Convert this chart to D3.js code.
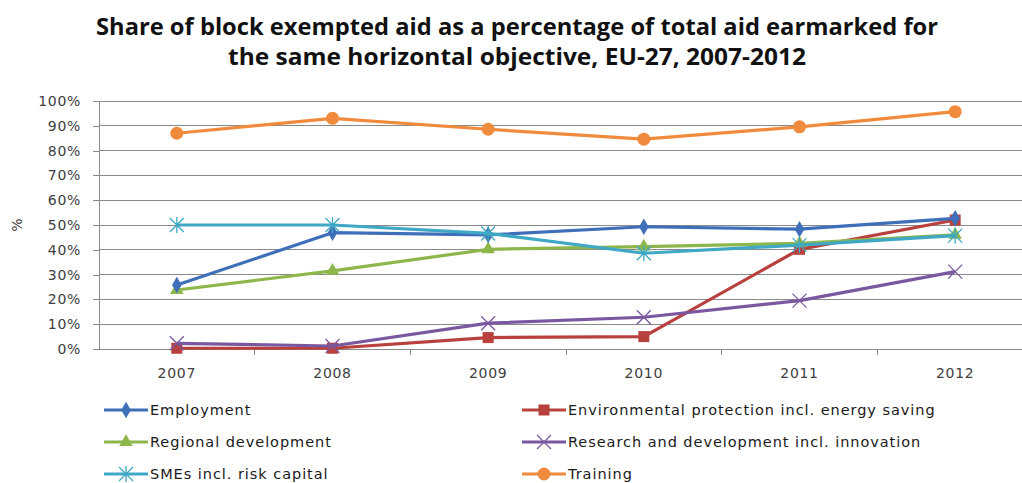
<!DOCTYPE html>
<html><head><meta charset="utf-8">
<script src="https://cdn.jsdelivr.net/npm/d3@7"></script>
<style>body{margin:0;background:#fff}svg{display:block}</style>
</head><body><svg id="c" width="1022" height="483"></svg>
<script>
const years = ["2007","2008","2009","2010","2011","2012"];
const yTicks = [0,10,20,30,40,50,60,70,80,90,100];
const employment = [25.8,46.9,46.0,49.3,48.3,52.7];
const environmental = [0.3,0.3,4.6,5.0,40.2,52.0];
const regional = [23.8,31.5,40.2,41.3,42.6,46.0];
const research = [2.3,1.2,10.4,12.8,19.5,31.2];
const smes = [50.0,50.0,46.6,38.6,41.9,45.7];
const training = [87.0,93.0,88.6,84.6,89.6,95.7];
const seriesNames = ["Employment","Environmental protection incl. energy saving","Regional development","Research and development incl. innovation","SMEs incl. risk capital","Training"];
const seriesColors = ["#3f6fb8","#b8403d","#8db64b","#7a58a0","#3fa8c4","#f08a3c"];
const seriesMarkers = ["diamond","square","triangle","x","asterisk","circle"];
const seriesValues = [employment,environmental,regional,research,smes,training];
const title = ["Share of block exempted aid as a percentage of total aid earmarked for","the same horizontal objective, EU-27, 2007-2012"];

const svg = d3.select("#c");
const L = 99, R = 1033, T = 101, B = 349;
const x = d3.scaleBand().domain(years).range([L,R]);
const y = d3.scaleLinear().domain([0,100]).range([B,T]);

// title
svg.selectAll("text.title").data(title).join("text").attr("class","title")
  .attr("x",517).attr("y",(d,i)=>35+i*30).attr("text-anchor","middle")
  .attr("font-family","'Open Sans','Liberation Sans',sans-serif").attr("font-weight","bold")
  .attr("font-size",23).attr("fill","#111")
  .attr("textLength",(d,i)=>i===0?842:578).attr("lengthAdjust","spacingAndGlyphs")
  .text(d=>d);

// grid
svg.append("g").selectAll("line").data(yTicks.slice(1)).join("line")
  .attr("x1",L).attr("x2",R).attr("y1",d=>y(d)).attr("y2",d=>y(d))
  .attr("stroke","#8a8a8a").attr("stroke-width",1).attr("shape-rendering","crispEdges");

// y axis
const ya = svg.append("g").attr("transform",`translate(${L},0)`)
  .call(d3.axisLeft(y).tickValues(yTicks).tickFormat(d=>d+"%").tickSize(6).tickSizeOuter(0));
ya.select(".domain").attr("stroke","#8a8a8a");
ya.selectAll(".tick line").attr("stroke","#8a8a8a");
ya.selectAll(".tick text").attr("font-family","'DejaVu Sans',sans-serif").attr("font-size",14)
  .attr("fill","#404040").attr("letter-spacing","0.7").attr("x",-18);
ya.selectAll("path,line").attr("shape-rendering","crispEdges");

// x axis
const xa = svg.append("g").attr("transform",`translate(0,${B})`)
  .call(d3.axisBottom(x).tickSize(0).tickSizeOuter(0));
xa.select(".domain").attr("stroke","#8a8a8a").attr("shape-rendering","crispEdges");
xa.selectAll(".tick text").attr("font-family","'DejaVu Sans',sans-serif").attr("font-size",14)
  .attr("fill","#404040").attr("letter-spacing","0.7").attr("y",19);
svg.append("g").selectAll("line").data(years.slice(1)).join("line")
  .attr("x1",d=>x(d)).attr("x2",d=>x(d)).attr("y1",B).attr("y2",B+6)
  .attr("stroke","#8a8a8a").attr("shape-rendering","crispEdges");

// y title
svg.append("text").attr("transform","translate(22,225) rotate(-90)").attr("text-anchor","middle")
  .attr("font-family","'DejaVu Sans',sans-serif").attr("font-size",14).attr("fill","#404040").text("%");

function marker(g, type, color, cx, cy){
  if(type==="diamond"){
    g.append("path").attr("d",d3.symbol(d3.symbolDiamond,80)()).attr("transform",`translate(${cx},${cy})`).attr("fill",color);
  } else if(type==="square"){
    g.append("rect").attr("x",cx-5.5).attr("y",cy-5.5).attr("width",11).attr("height",11).attr("fill",color);
  } else if(type==="triangle"){
    g.append("path").attr("d",d3.symbol(d3.symbolTriangle,80)()).attr("transform",`translate(${cx},${cy})`).attr("fill",color);
  } else if(type==="circle"){
    g.append("circle").attr("cx",cx).attr("cy",cy).attr("r",6.5).attr("fill",color);
  } else if(type==="x" || type==="asterisk"){
    const s=7;
    g.append("path").attr("d",`M${cx-s},${cy-s}L${cx+s},${cy+s}M${cx-s},${cy+s}L${cx+s},${cy-s}`+(type==="asterisk"?`M${cx},${cy-s-1}L${cx},${cy+s+1}`:""))
      .attr("stroke",color).attr("stroke-width",1.3).attr("fill","none");
  }
}

const line = d3.line().x((d,i)=>x(years[i])+x.bandwidth()/2).y(d=>y(d));
const order = [1,3,2,0,4,5];
order.forEach(k=>{
  const g = svg.append("g");
  g.append("path").attr("d",line(seriesValues[k])).attr("fill","none")
    .attr("stroke",seriesColors[k]).attr("stroke-width",3.2).attr("stroke-linejoin","round");
  seriesValues[k].forEach((v,i)=>marker(g,seriesMarkers[k],seriesColors[k],x(years[i])+x.bandwidth()/2,y(v)));
});

// legend
seriesNames.forEach((n,k)=>{
  const col = k%2, row = Math.floor(k/2);
  const lx = col===0?104:522, ly = 410+row*32;
  const g = svg.append("g");
  g.append("line").attr("x1",lx).attr("x2",lx+44).attr("y1",ly).attr("y2",ly)
    .attr("stroke",seriesColors[k]).attr("stroke-width",3.2);
  marker(g,seriesMarkers[k],seriesColors[k],lx+22,ly);
  g.append("text").attr("x",lx+46).attr("y",ly).attr("dy","0.36em")
    .attr("font-family","'DejaVu Sans',sans-serif").attr("font-size",14.5).attr("letter-spacing","0.95")
    .attr("fill","#1a1a1a").text(n);
});
</script></body></html>
